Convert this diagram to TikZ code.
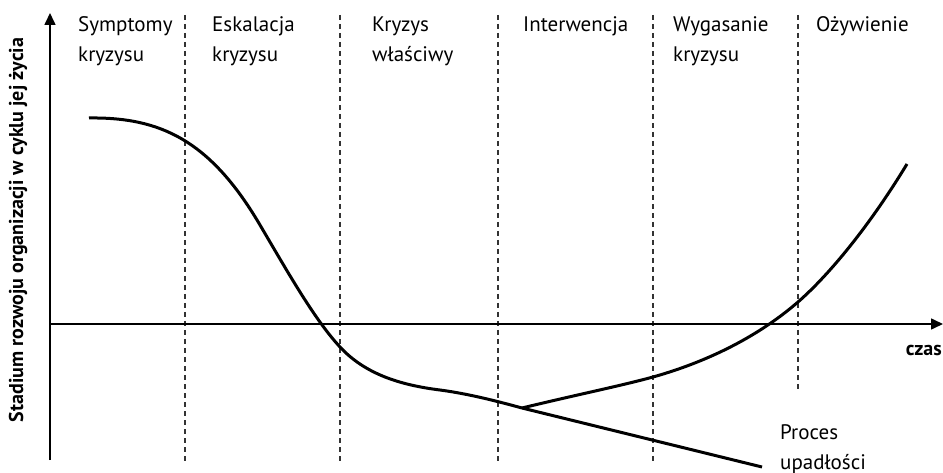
\documentclass[tikz,border=0pt]{standalone}
\usepackage{fontspec}
\setmainfont{PT Sans}
\usetikzlibrary{arrows.meta}
\begin{document}
\begin{tikzpicture}[x=1pt,y=-1pt,
  axis/.style={line width=1.6pt,-{Triangle[length=12pt,width=11pt]}},
  divider/.style={line width=1.3pt,draw=black!80,dash pattern=on 5pt off 4pt},
  curve/.style={line width=3pt},
  phase/.style={anchor=base west,font=\fontsize{21}{30}\selectfont,align=left,inner sep=0pt},
  lbl/.style={font=\fontsize{20}{30}\selectfont\bfseries,inner sep=0pt}]
\useasboundingbox (0,0) rectangle (943,473);
% dividers
\foreach \x/\b in {185/463,340/463,498/463,653/463,798/392}
  \draw[divider] (\x,15) -- (\x,\b);
% axes
\coordinate (o) at (50,460);
\coordinate (ytip) at (50,13);
\coordinate (xs) at (50,324);
\coordinate (xtip) at (943,324);
\draw[axis] (o) -- (ytip);
\draw[axis] (xs) -- (xtip);
% curve
\coordinate (start) at (89,118);
\coordinate (branch) at (522,408);
\coordinate (fall) at (762,467);
\coordinate (rise) at (907,164);
\draw[curve] (start) .. controls (160,117) and (210,140) .. (260,225)
  .. controls (290,276) and (315,320) .. (340,347)
  .. controls (365,374) and (400,385) .. (440,390)
  .. controls (470,394) and (500,402) .. (branch);
\draw[curve] (branch) -- (fall);
\draw[curve] (branch) .. controls (580,394) and (620,386) .. (653,377)
  .. controls (710,361) and (760,335) .. (798,302)
  .. controls (830,274) and (870,225) .. (rise);
% texts
\node[phase] (t1) at (78,62) {Symptomy\\kryzysu};
\node[phase] (t2) at (212,62) {Eskalacja\\kryzysu};
\node[phase] (t3) at (372,62) {Kryzys\\właściwy};
\node[phase] (t4) at (523,32) {Interwencja};
\node[phase] (t5) at (673,62) {Wygasanie\\kryzysu};
\node[phase] (t6) at (816,32) {Ożywienie};
\node[phase] (t7) at (780,469) {Proces\\upadłości};
\node[lbl,anchor=base east] (czas) at (942,355) {czas};
\node[lbl,rotate=90] (ylab) at (18,230) {Stadium rozwoju organizacji w cyklu jej życia};
\end{tikzpicture}
\end{document}
